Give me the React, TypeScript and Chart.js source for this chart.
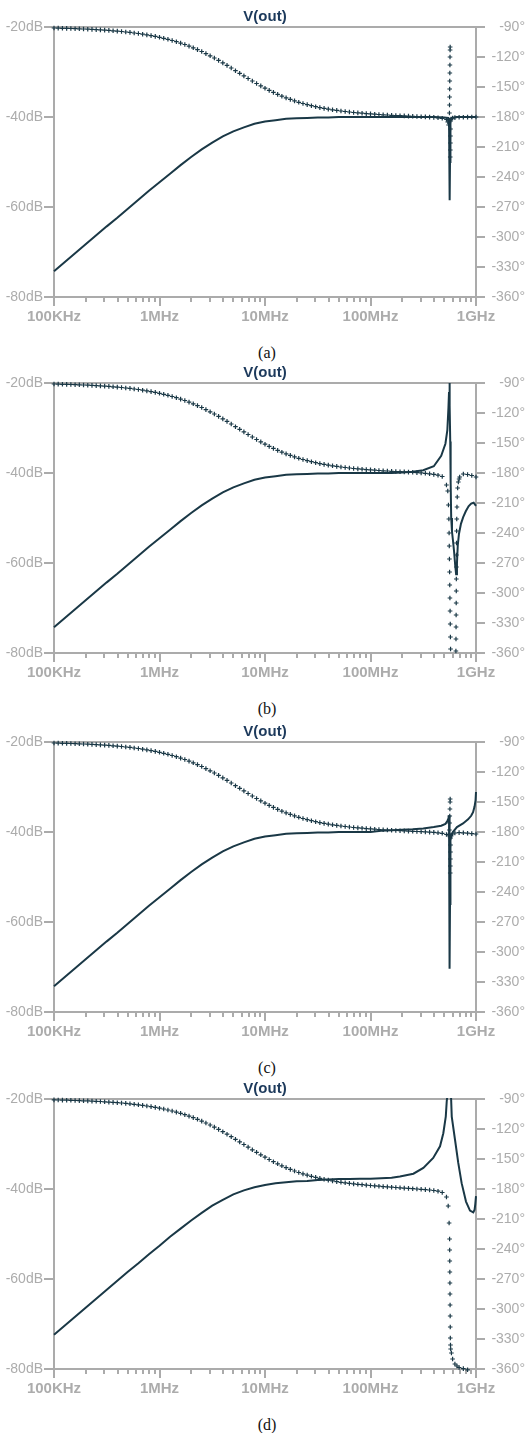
import React, { useEffect, useRef } from "react";
import { Chart, registerables } from "chart.js";

Chart.register(...registerables);

// ---------------- axes / ticks ----------------
const X_TICK_VALUES_MHZ = [0.1, 1, 10, 100, 1000];
const X_TICK_LABELS = ["100KHz", "1MHz", "10MHz", "100MHz", "1GHz"];
const X_MINOR_STEPS = [2, 3, 4, 5, 6, 7, 8, 9];
const DB_TICKS = [-80, -60, -40, -20];
const DB_TICK_LABELS = ["-80dB", "-60dB", "-40dB", "-20dB"];
const DEG_TICKS = [-360, -330, -300, -270, -240, -210, -180, -150, -120, -90];
const DEG_TICK_LABELS = ["-360°", "-330°", "-300°", "-270°", "-240°", "-210°", "-180°", "-150°", "-120°", "-90°"];
const TITLE_TEXT = "V(out)";
const CAPTIONS = ["(a)", "(b)", "(c)", "(d)"];

// ---------------- magnitude (dB) ----------------
const MAG_LOW_MHZ = [0.1, 0.1259, 0.1585, 0.1995, 0.2512, 0.3162, 0.3981, 0.5012, 0.631, 0.7943, 1, 1.259, 1.585, 1.995, 2.512, 3.162, 3.981, 5.012, 6.31, 7.943, 10, 12.59, 15.85, 19.95, 25.12, 31.62, 39.81, 50.12, 63.1, 79.43, 100];
const MAG_LOW_ABC = [-74.3, -72.3, -70.3, -68.3, -66.3, -64.3, -62.4, -60.4, -58.4, -56.4, -54.5, -52.6, -50.7, -48.9, -47.2, -45.7, -44.3, -43.2, -42.3, -41.5, -41.0, -40.7, -40.4, -40.3, -40.2, -40.1, -40.1, -40.0, -40.0, -40.0, -40.0];
const MAG_LOW_D = [-72.4, -70.4, -68.4, -66.4, -64.4, -62.4, -60.4, -58.4, -56.5, -54.5, -52.6, -50.6, -48.8, -47.0, -45.3, -43.7, -42.4, -41.2, -40.3, -39.6, -39.1, -38.7, -38.5, -38.3, -38.2, -38.0, -37.9, -37.8, -37.8, -37.7, -37.7];

const MAG_HIGH_A_MHZ = [125.9, 200, 300, 400, 500, 545, 555, 560, 563, 565, 567, 570, 575, 590, 650, 800, 1000];
const MAG_HIGH_A = [-40.0, -40.0, -40.0, -40.0, -40.1, -40.2, -40.6, -44.0, -52.0, -58.5, -50.0, -43.0, -40.6, -40.2, -40.0, -40.0, -40.0];

const MAG_HIGH_B_MHZ = [125.9, 158.5, 199.5, 251.2, 316.2, 398.1, 468, 513, 535, 548, 555, 560, 565, 570, 575, 582, 592, 605, 620, 635, 648, 660, 672, 690, 720, 756, 800, 850, 900, 950, 1000];
const MAG_HIGH_B = [-40.0, -40.0, -39.9, -39.7, -39.4, -38.5, -36.2, -33.5, -30.5, -25.5, -22.0, -20.0, -25.0, -33.0, -42.0, -50.0, -53.0, -55.0, -57.5, -60.5, -62.5, -60.0, -56.0, -53.5, -51.3, -49.8, -48.5, -47.4, -46.8, -46.6, -47.3];

const MAG_HIGH_C_MHZ = [125.9, 158.5, 199.5, 251.2, 316.2, 398.1, 468, 513, 535, 548, 555, 558, 561, 563, 565, 567, 570, 575, 585, 603, 660, 754, 841, 900, 938, 970, 990, 1000];
const MAG_HIGH_C = [-39.7, -39.6, -39.5, -39.4, -39.2, -38.9, -38.6, -38.2, -37.6, -37.0, -36.3, -40.0, -52.0, -62.0, -70.4, -56.0, -45.0, -41.8, -40.5, -40.0, -38.9, -38.1, -37.2, -36.4, -35.6, -34.3, -33.0, -31.1];

const MAG_HIGH_D_MHZ = [125.9, 158.5, 190, 255, 317, 393, 456, 490, 517, 528, 546, 560, 576, 589, 632, 679, 731, 804, 877, 942, 970, 985, 1000];
const MAG_HIGH_D = [-37.6, -37.5, -37.2, -36.6, -35.3, -33.1, -30.5, -27.6, -23.9, -20.5, -17.5, -15.5, -17.5, -23.9, -29.0, -34.2, -38.7, -42.8, -44.8, -45.2, -44.6, -43.3, -41.6];

// ---------------- phase (degrees) ----------------
const PHASE_GRID_MHZ = [
  0.1, 0.1096, 0.1202, 0.1318, 0.1445, 0.1585, 0.1738, 0.1905, 0.2089, 0.2291, 0.2512, 0.2754, 0.302, 0.3311, 0.3631, 0.3981, 0.4365, 0.4786, 0.5248, 0.5754, 0.631, 0.6918, 0.7586, 0.8318, 0.912,
  1, 1.096, 1.202, 1.318, 1.445, 1.585, 1.738, 1.905, 2.089, 2.291, 2.512, 2.754, 3.02, 3.311, 3.631, 3.981, 4.365, 4.786, 5.248, 5.754, 6.31, 6.918, 7.586, 8.318, 9.12,
  10, 10.96, 12.02, 13.18, 14.45, 15.85, 17.38, 19.05, 20.89, 22.91, 25.12, 27.54, 30.2, 33.11, 36.31, 39.81, 43.65, 47.86, 52.48, 57.54, 63.1, 69.18, 75.86, 83.18, 91.2,
  100, 109.6, 120.2, 131.8, 144.5, 158.5, 173.8, 190.5, 208.9, 229.1, 251.2, 275.4, 302, 331.1, 363.1, 398.1, 436.5, 478.6, 524.8, 575.4, 631, 691.8, 758.6, 831.8, 912,
  1000,
];
const PHASE_LOW_ABC = [
  -91.0, -91.1, -91.3, -91.4, -91.5, -91.7, -91.8, -92.0, -92.2, -92.4, -92.6, -92.9, -93.1, -93.4, -93.8, -94.1, -94.5, -95.0, -95.4, -96.0, -96.5, -97.2, -97.9, -98.6, -99.4,
  -100.3, -101.3, -102.3, -103.5, -104.7, -106.1, -107.5, -109.1, -110.8, -112.6, -114.5, -116.6, -118.8, -121.0, -123.4, -125.9, -128.4, -131.0, -133.7, -136.3, -138.9, -141.5, -144.0, -146.5, -148.9,
  -151.2, -153.4, -155.4, -157.4, -159.2, -160.9, -162.4, -163.9, -165.3, -166.5, -167.6, -168.7, -169.7, -170.6, -171.4, -172.1, -172.8, -173.4, -174.0, -174.5, -175.0, -175.5, -175.9, -176.2, -176.6,
  -176.9,
];
const PHASE_HIGH_A = [-177.2, -177.5, -177.8, -178.0, -178.3, -178.5, -178.7, -178.9, -179.1, -179.3, -179.5, -179.7, -179.9, -180.1, -180.4, -180.8, -181.3, -182.5, -184.0, -180.6, -180.3, -180.2, -180.1, -180.0, -180.0];
const PHASE_HIGH_B = [-177.2, -177.5, -177.8, -178.0, -178.3, -178.5, -178.7, -178.9, -179.1, -179.3, -179.6, -179.9, -180.3, -180.8, -181.4, -182.2, -183.5, -192.0, null, null, -186.0, -181.0, -181.5, -182.5, -184.0];
const PHASE_HIGH_C = [-177.2, -177.5, -177.8, -178.0, -178.3, -178.5, -178.7, -178.9, -179.1, -179.3, -179.5, -179.7, -179.9, -180.1, -180.4, -180.8, -181.3, -182.5, -186.0, -181.0, -180.6, -180.8, -181.2, -181.6, -182.0];
const PHASE_D = [
  -90.9, -91.0, -91.1, -91.2, -91.3, -91.5, -91.6, -91.8, -91.9, -92.1, -92.3, -92.5, -92.8, -93.1, -93.4, -93.7, -94.0, -94.4, -94.8, -95.3, -95.8, -96.4, -97.0, -97.6, -98.4,
  -99.2, -100.0, -101.0, -102.0, -103.1, -104.3, -105.7, -107.1, -108.6, -110.3, -112.1, -114.0, -116.0, -118.1, -120.4, -122.7, -125.2, -127.7, -130.3, -132.9, -135.5, -138.1, -140.8, -143.3, -145.8,
  -148.2, -150.5, -152.7, -154.8, -156.8, -158.6, -160.4, -162.0, -163.5, -164.9, -166.1, -167.3, -168.4, -169.4, -170.3, -171.1, -171.9, -172.6, -173.3, -173.8, -174.4, -174.9, -175.3, -175.7, -176.1,
  -176.5,
  -176.9, -177.2, -177.6, -177.9, -178.2, -178.5, -178.8, -179.1, -179.4, -179.7, -180.0, -180.3, -180.6, -181.0, -181.5, -182.2, -183.5, -188.0, -340.0, -355.0, -358.5, -359.6, -360.8, null, null,
];

// dense samples around the resonance
const RES_A_MHZ = [540, 550, 558, 560, 561, 562, 563, 564, 565, 566, 567, 568, 569, 570, 571, 572, 573, 574, 580, 600];
const RES_A_DEG = [-185, -188, -183, -176, -168, -160, -152, -144, -136, -128, -120, -113, -110, -220, -213, -206, -199, -192, -182, -181];
const RES_B_MHZ = [540, 548, 553, 556, 558, 560, 562, 564, 566, 568, 570, 572, 574, 645, 646, 647, 648, 649, 650, 651, 652, 653, 654, 655, 657, 660, 664, 670, 680, 700];
const RES_B_DEG = [-198, -212, -226, -240, -253, -266, -279, -292, -305, -318, -331, -344, -356, -358, -346, -334, -322, -310, -298, -286, -274, -262, -250, -238, -226, -214, -204, -195, -189, -184];
const RES_C_MHZ = [545, 560, 562, 564, 566, 568, 569, 570, 571, 572, 573, 574, 580, 600];
const RES_C_DEG = [-183, -178, -171, -164, -157, -150, -147, -221, -214, -207, -200, -193, -184, -182];
const RES_D_MHZ = [545, 556, 562, 563, 564, 565, 566, 567, 568, 569, 570, 571, 573, 585, 600, 660];
const RES_D_DEG = [-197, -214, -230, -241, -252, -263, -274, -285, -296, -307, -318, -329, -336, -344, -350, -357];

// ---------------- styling ----------------
const FONT = '"Liberation Sans", Arial, sans-serif';
const AXIS_COLOR = "#ababab";
const LABEL_COLOR = "#acacac";
const TRACE_COLOR = "#1a3846";
const TITLE_COLOR = "#1d3a5c";
const CANVAS_W = 525;
const CANVAS_H = 330;
const PANEL_TOPS = [0, 356, 715, 1072];

type Pt = { x: number; y: number | null };
const points = (fs: number[], vs: (number | null)[]): Pt[] => fs.map((f, i) => ({ x: f, y: vs[i] }));

const PANELS = [
  {
    mag: [...points(MAG_LOW_MHZ, MAG_LOW_ABC), ...points(MAG_HIGH_A_MHZ, MAG_HIGH_A)],
    phase: [...points(PHASE_GRID_MHZ, [...PHASE_LOW_ABC, ...PHASE_HIGH_A]), ...points(RES_A_MHZ, RES_A_DEG)],
  },
  {
    mag: [...points(MAG_LOW_MHZ, MAG_LOW_ABC), ...points(MAG_HIGH_B_MHZ, MAG_HIGH_B)],
    phase: [...points(PHASE_GRID_MHZ, [...PHASE_LOW_ABC, ...PHASE_HIGH_B]), ...points(RES_B_MHZ, RES_B_DEG)],
  },
  {
    mag: [...points(MAG_LOW_MHZ, MAG_LOW_ABC), ...points(MAG_HIGH_C_MHZ, MAG_HIGH_C)],
    phase: [...points(PHASE_GRID_MHZ, [...PHASE_LOW_ABC, ...PHASE_HIGH_C]), ...points(RES_C_MHZ, RES_C_DEG)],
  },
  {
    mag: [...points(MAG_LOW_MHZ, MAG_LOW_D), ...points(MAG_HIGH_D_MHZ, MAG_HIGH_D)],
    phase: [...points(PHASE_GRID_MHZ, PHASE_D), ...points(RES_D_MHZ, RES_D_DEG)],
  },
];

const framePlugin = {
  id: "ltFrame",
  beforeDatasetsDraw(chart: any) {
    const { ctx, chartArea, scales } = chart;
    const { left, right, top, bottom } = chartArea;
    ctx.save();
    ctx.strokeStyle = AXIS_COLOR;
    ctx.lineWidth = 2;
    ctx.strokeRect(left, top, right - left, bottom - top);
    ctx.beginPath();
    DB_TICKS.forEach((v) => {
      const y = Math.round(scales.yL.getPixelForValue(v));
      ctx.moveTo(left - 10, y);
      ctx.lineTo(left, y);
    });
    DEG_TICKS.forEach((v) => {
      const y = Math.round(scales.yR.getPixelForValue(v));
      ctx.moveTo(right, y);
      ctx.lineTo(right + 9, y);
    });
    X_TICK_VALUES_MHZ.forEach((v) => {
      const x = Math.round(scales.x.getPixelForValue(v));
      ctx.moveTo(x, bottom);
      ctx.lineTo(x, bottom + 9);
    });
    X_TICK_VALUES_MHZ.slice(0, -1).forEach((d) => {
      X_MINOR_STEPS.forEach((m) => {
        const x = Math.round(scales.x.getPixelForValue(d * m));
        ctx.moveTo(x, bottom);
        ctx.lineTo(x, bottom + 5);
      });
    });
    ctx.stroke();
    ctx.restore();
  },
};

function makeConfig(mag: Pt[], phase: Pt[]): any {
  return {
    type: "line",
    data: {
      datasets: [
        {
          label: "mag",
          data: mag,
          yAxisID: "yL",
          borderColor: TRACE_COLOR,
          borderWidth: 2,
          pointRadius: 0,
          tension: 0,
          fill: false,
          clip: 1,
        },
        {
          label: "phase",
          data: phase,
          yAxisID: "yR",
          showLine: false,
          pointStyle: "cross",
          pointRadius: 2.3,
          pointBorderWidth: 1.2,
          pointBorderColor: TRACE_COLOR,
          pointBackgroundColor: TRACE_COLOR,
          borderColor: TRACE_COLOR,
          clip: 3,
        },
      ],
    },
    options: {
      animation: false,
      responsive: false,
      maintainAspectRatio: false,
      devicePixelRatio: 1,
      events: [],
      layout: { padding: 0 },
      plugins: {
        legend: { display: false },
        tooltip: { enabled: false },
        title: {
          display: true,
          text: TITLE_TEXT,
          color: TITLE_COLOR,
          font: { family: FONT, size: 15, weight: "bold" },
          padding: { top: 8, bottom: 1 },
          fullSize: false,
        },
      },
      scales: {
        x: {
          type: "logarithmic",
          position: "bottom",
          min: 0.1,
          max: 1000,
          afterBuildTicks: (s: any) => {
            s.ticks = X_TICK_VALUES_MHZ.map((v) => ({ value: v }));
          },
          afterFit: (s: any) => {
            s.height = 33;
          },
          ticks: {
            color: LABEL_COLOR,
            font: { family: FONT, size: 15, weight: "bold" },
            padding: 11,
            autoSkip: false,
            maxRotation: 0,
            minRotation: 0,
            callback: (_v: any, i: number) => X_TICK_LABELS[i],
          },
          grid: { display: false, drawTicks: false },
          border: { display: false },
        },
        yL: {
          type: "linear",
          position: "left",
          min: -80,
          max: -20,
          afterBuildTicks: (s: any) => {
            s.ticks = DB_TICKS.map((v) => ({ value: v }));
          },
          afterFit: (s: any) => {
            s.width = 54;
          },
          ticks: {
            color: LABEL_COLOR,
            font: { family: FONT, size: 14 },
            padding: 11,
            autoSkip: false,
            callback: (_v: any, i: number) => DB_TICK_LABELS[i],
          },
          grid: { display: false, drawTicks: false },
          border: { display: false },
        },
        yR: {
          type: "linear",
          position: "right",
          min: -360,
          max: -90,
          afterBuildTicks: (s: any) => {
            s.ticks = DEG_TICKS.map((v) => ({ value: v }));
          },
          afterFit: (s: any) => {
            s.width = 49;
          },
          ticks: {
            color: LABEL_COLOR,
            font: { family: FONT, size: 14 },
            padding: 12,
            crossAlign: "far",
            autoSkip: false,
            callback: (_v: any, i: number) => DEG_TICK_LABELS[i],
          },
          grid: { display: false, drawTicks: false },
          border: { display: false },
        },
      },
    },
    plugins: [framePlugin],
  };
}

function Panel({ index }: { index: number }) {
  const ref = useRef<HTMLCanvasElement | null>(null);
  const top = PANEL_TOPS[index];
  useEffect(() => {
    if (!ref.current) return;
    const p = PANELS[index];
    const chart = new Chart(ref.current, makeConfig(p.mag, p.phase));
    return () => chart.destroy();
  }, [index]);
  return (
    <>
      <canvas
        ref={ref}
        width={CANVAS_W}
        height={CANVAS_H}
        style={{ position: "absolute", left: 0, top, width: CANVAS_W, height: CANVAS_H }}
      />
      <div
        style={{
          position: "absolute",
          left: 0,
          top: top + 344,
          width: 534,
          textAlign: "center",
          fontFamily: '"Liberation Serif", "Times New Roman", serif',
          fontSize: 16,
          lineHeight: "18px",
          color: "#111",
        }}
      >
        {CAPTIONS[index]}
      </div>
    </>
  );
}

export default function App() {
  return (
    <div style={{ position: "absolute", left: 0, top: 0, width: 525, height: 1433, background: "#fff" }}>
      {PANELS.map((_, i) => (
        <Panel key={i} index={i} />
      ))}
    </div>
  );
}
